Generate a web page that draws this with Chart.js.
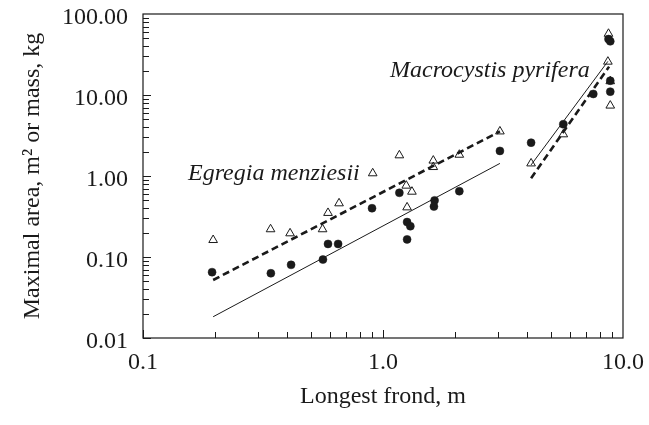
<!DOCTYPE html>
<html>
<head>
<meta charset="utf-8">
<script src="https://cdn.jsdelivr.net/npm/chart.js@4/dist/chart.umd.min.js"></script>
<style>
  html, body { margin: 0; padding: 0; background: #fff; }
  canvas { display: block; }
</style>
</head>
<body>
<canvas id="c" width="649" height="425"></canvas>
<script>
// Egregia menziesii: longest frond (m) vs maximal area / mass
const egregiaMassFrond = [0.194, 0.341, 0.414, 0.562, 0.59, 0.65, 0.90, 1.17, 1.26, 1.30, 1.26, 1.64, 1.63, 2.08, 3.07];
const egregiaMassValue = [0.065, 0.063, 0.080, 0.093, 0.145, 0.145, 0.40, 0.62, 0.27, 0.24, 0.165, 0.50, 0.42, 0.65, 2.04];
const egregiaAreaFrond = [0.196, 0.34, 0.41, 0.56, 0.59, 0.656, 0.906, 1.17, 1.25, 1.32, 1.26, 1.62, 1.62, 2.08, 3.07];
const egregiaAreaValue = [0.162, 0.22, 0.196, 0.22, 0.35, 0.46, 1.08, 1.80, 0.76, 0.64, 0.41, 1.55, 1.29, 1.83, 3.55];

// Macrocystis pyrifera
const macroMassFrond = [4.14, 5.64, 7.52, 8.7, 8.85, 8.85, 8.85];
const macroMassValue = [2.58, 4.35, 10.3, 49, 46, 15.0, 11.0];
const macroAreaFrond = [4.14, 5.64, 8.7, 8.65, 8.85, 8.85];
const macroAreaValue = [1.43, 3.27, 57, 25.8, 14.8, 7.4];

// Fitted power-law lines (end points)
const egregiaAreaFitX = [0.196, 3.07];
const egregiaAreaFitY = [0.052, 3.55];
const egregiaMassFitX = [0.196, 3.07];
const egregiaMassFitY = [0.0183, 1.43];
const macroMassFitX = [4.14, 8.65];
const macroMassFitY = [1.37, 26];
const macroAreaFitX = [4.14, 8.75];
const macroAreaFitY = [0.94, 22.4];

// Axis ticks
const xTickValues = [0.1, 1, 10];
const yTickValues = [0.01, 0.1, 1, 10, 100];

const pts = (xs, ys) => xs.map((x, i) => ({ x: x, y: ys[i] }));
const SERIF = "'Liberation Serif', 'Times New Roman', serif";
const INK = '#1a1a1a';

// Frame plus inward minor/major ticks on the left and bottom axes
const framePlugin = {
  id: 'frame',
  afterDraw(chart) {
    const { ctx, chartArea: a, scales } = chart;
    ctx.save();
    ctx.strokeStyle = INK;
    ctx.lineWidth = 1.2;
    ctx.strokeRect(a.left, a.top, a.right - a.left, a.bottom - a.top);
    ctx.lineWidth = 1;
    ctx.beginPath();
    for (let e = -2; e <= 1; e++) {
      for (let k = 1; k <= 9; k++) {
        const v = k * Math.pow(10, e);
        const py = Math.round(scales.y.getPixelForValue(v)) + 0.5;
        const len = k === 1 ? 8 : 6;
        ctx.moveTo(a.left, py);
        ctx.lineTo(a.left + len, py);
      }
    }
    for (let e = -1; e <= 0; e++) {
      for (let k = 1; k <= 9; k++) {
        const v = k * Math.pow(10, e);
        const px = Math.round(scales.x.getPixelForValue(v)) + 0.5;
        const len = k === 1 ? 8 : 6;
        ctx.moveTo(px, a.bottom);
        ctx.lineTo(px, a.bottom - len);
      }
    }
    ctx.stroke();

    // Species names
    ctx.fillStyle = INK;
    ctx.font = 'italic 24px ' + SERIF;
    ctx.textBaseline = 'alphabetic';
    ctx.textAlign = 'left';
    ctx.fillText('Egregia menziesii', 188, 180);
    ctx.fillText('Macrocystis pyrifera', 390, 77);
    ctx.restore();
  }
};

const circle = (data) => ({
  type: 'scatter', data: data, showLine: false,
  pointStyle: 'circle', pointRadius: 4, pointBackgroundColor: INK, pointBorderColor: INK, pointBorderWidth: 0.5
});
const triangle = (data) => ({
  type: 'scatter', data: data, showLine: false,
  pointStyle: 'triangle', pointRadius: 5, pointBackgroundColor: 'rgba(255,255,255,0)', pointBorderColor: INK, pointBorderWidth: 1
});
const fit = (data, dashed) => ({
  type: 'scatter', data: data, showLine: true, pointRadius: 0,
  borderColor: INK, borderWidth: dashed ? 2.6 : 1, borderDash: dashed ? [7, 4] : []
});

new Chart(document.getElementById('c'), {
  type: 'scatter',
  data: {
    datasets: [
      fit(pts(egregiaAreaFitX, egregiaAreaFitY), true),
      fit(pts(egregiaMassFitX, egregiaMassFitY), false),
      fit(pts(macroMassFitX, macroMassFitY), false),
      fit(pts(macroAreaFitX, macroAreaFitY), true),
      triangle(pts(egregiaAreaFrond, egregiaAreaValue)),
      triangle(pts(macroAreaFrond, macroAreaValue)),
      circle(pts(egregiaMassFrond, egregiaMassValue)),
      circle(pts(macroMassFrond, macroMassValue))
    ]
  },
  options: {
    responsive: false,
    devicePixelRatio: 1,
    animation: false,
    layout: { padding: { left: 0, right: 26, top: 14, bottom: 0 } },
    plugins: { legend: { display: false }, tooltip: { enabled: false } },
    scales: {
      x: {
        type: 'logarithmic', position: 'bottom', min: 0.1, max: 10,
        grid: { display: false, drawTicks: false },
        border: { display: false },
        afterBuildTicks(scale) { scale.ticks = xTickValues.map(v => ({ value: v })); },
        afterFit(scale) { scale.height = 87; scale.paddingLeft = 0; scale.paddingRight = 0; },
        ticks: {
          autoSkip: false, maxRotation: 0, padding: 10, color: INK,
          font: { family: SERIF, size: 24 },
          callback: (v) => Number(v).toFixed(1)
        },
        title: {
          display: true, text: 'Longest frond, m', color: INK,
          font: { family: SERIF, size: 24 }, padding: { top: 0, bottom: 14 }
        }
      },
      y: {
        type: 'logarithmic', position: 'left', min: 0.01, max: 100,
        grid: { display: false, drawTicks: false },
        border: { display: false },
        afterBuildTicks(scale) { scale.ticks = yTickValues.map(v => ({ value: v })); },
        afterFit(scale) { scale.width = 143; scale.paddingTop = 0; scale.paddingBottom = 0; },
        ticks: {
          autoSkip: false, padding: 15, labelOffset: 4, color: INK,
          font: { family: SERIF, size: 24 },
          callback: (v) => Number(v).toFixed(2)
        },
        title: {
          display: true, text: 'Maximal area, m\u00B2 or mass, kg', color: INK,
          font: { family: SERIF, size: 24 }, padding: { top: 18, bottom: 0 }
        }
      }
    }
  },
  plugins: [framePlugin]
});
</script>
</body>
</html>
